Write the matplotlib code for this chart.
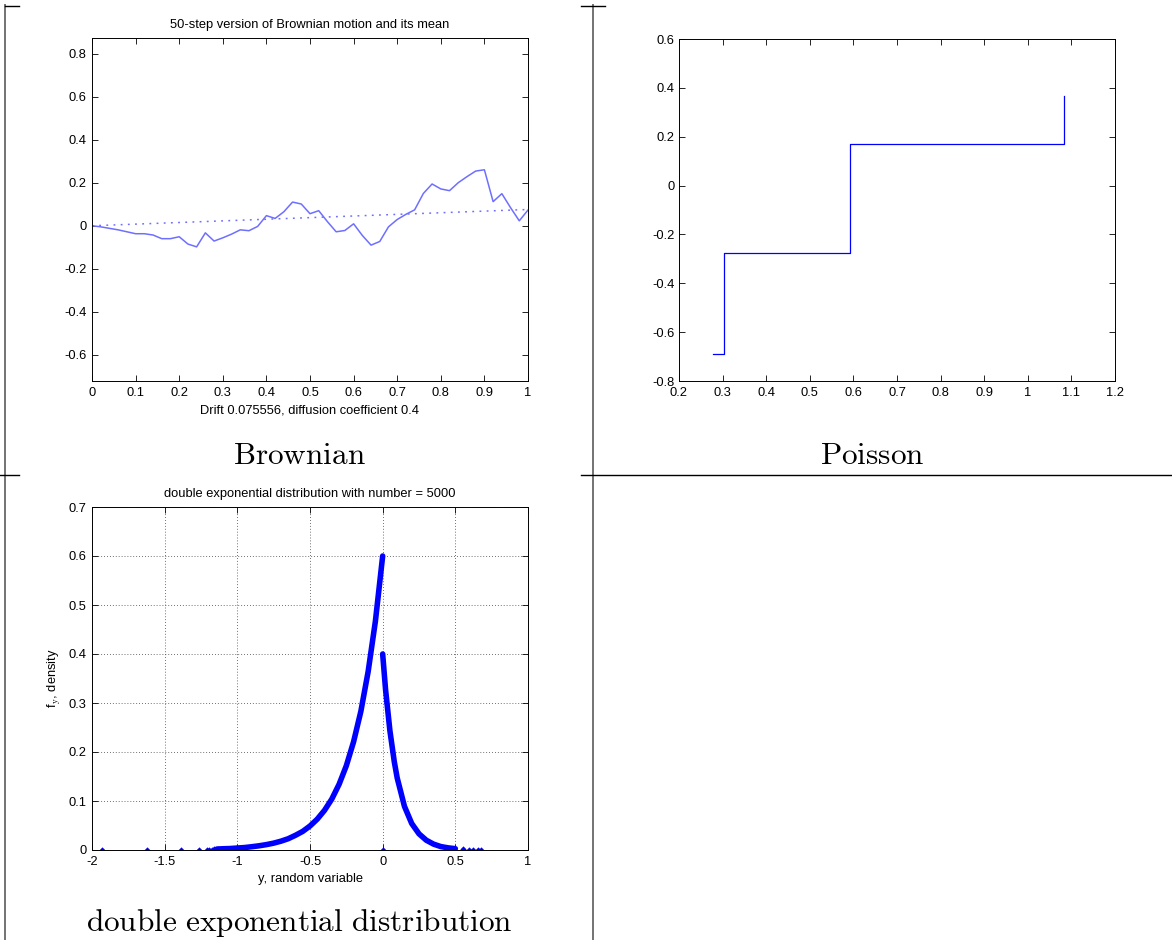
import numpy as np
import matplotlib.pyplot as plt
from matplotlib.lines import Line2D
from matplotlib.ticker import FormatStrFormatter, MultipleLocator

plt.rcParams['font.family'] = ['Liberation Sans', 'DejaVu Sans']
plt.rcParams['font.size'] = 9.3
plt.rcParams['mathtext.fontset'] = 'cm'

### Daten
# Brownian path, 50 Schritte auf [0, 1]
bm_t = np.linspace(0, 1, 51)
bm_w = [0.0, -0.005, -0.012, -0.019, -0.028, -0.037, -0.037, -0.043, -0.060, -0.060,
        -0.051, -0.085, -0.098, -0.033, -0.071, -0.056, -0.039, -0.019, -0.023, -0.003,
        0.047, 0.034, 0.065, 0.110, 0.101, 0.056, 0.070, 0.019, -0.028, -0.022,
        0.009, -0.045, -0.090, -0.073, -0.005, 0.029, 0.053, 0.074, 0.150, 0.194,
        0.171, 0.163, 0.200, 0.228, 0.254, 0.260, 0.112, 0.149, 0.084, 0.023, 0.073]
drift = 0.075556
mean_t = [0.0, 1.0]
mean_w = [0.0, drift]

# Poisson Sprungzeiten / Werte
po_t = [0.278, 0.303, 0.593, 1.083]
po_v = [-0.691, -0.277, 0.172, 0.367]

de_left_y = [-1.14, -1.1, -1.05, -1.0, -0.95, -0.9, -0.85, -0.8, -0.75, -0.7, -0.65, -0.6,
             -0.55, -0.5, -0.45, -0.4, -0.35, -0.3, -0.25, -0.2, -0.15, -0.1, -0.05, 0.0]
de_left_f = [0.002, 0.0025, 0.003, 0.004, 0.005, 0.0067, 0.0086, 0.011, 0.014, 0.018, 0.023, 0.030,
             0.038, 0.049, 0.063, 0.081, 0.104, 0.134, 0.172, 0.221, 0.283, 0.364, 0.467, 0.6]
de_right_y = [0.0, 0.02, 0.05, 0.08, 0.1, 0.15, 0.2, 0.25, 0.3, 0.35, 0.4, 0.45, 0.5]
de_right_f = [0.4, 0.327, 0.243, 0.180, 0.147, 0.089, 0.054, 0.033, 0.020, 0.012, 0.007, 0.0044, 0.0027]
de_tail_y = [-1.933, -1.624, -1.39, -1.262, -1.211, -1.195, -1.176, -1.16, 0.0,
             0.55, 0.596, 0.625, 0.653, 0.678]
de_tail_f = [0.0, 0.0, 0.0, 0.0005, 0.0008, 0.0009, 0.001, 0.0012, 0.0,
             0.0015, 0.001, 0.0008, 0.0006, 0.0005]

W, H = 1172, 940


def box(l, t, r, b):
    return [l / W, 1 - b / H, (r - l) / W, (b - t) / H]


def matlab_axes(ax):
    ax.tick_params(direction='in', top=True, right=True, length=4, width=0.6,
                   labelsize=9.3, pad=4)
    for s in ax.spines.values():
        s.set_linewidth(0.7)
    ax.xaxis.set_major_formatter(FormatStrFormatter('%g'))
    ax.yaxis.set_major_formatter(FormatStrFormatter('%g'))


fig = plt.figure(figsize=(W / 100, H / 100), dpi=100)

# Tabellenlinien
line_kw = dict(transform=fig.transFigure)
fig.add_artist(Line2D([5 / W, 5 / W], [0, 1 - 5 / H], color='0.45', lw=1.4, **line_kw))
fig.add_artist(Line2D([593 / W, 593 / W], [0, 1 - 5 / H], color='0.45', lw=1.4, **line_kw))
fig.add_artist(Line2D([5 / W, 19 / W], [1 - 6 / H, 1 - 6 / H], color='k', lw=1, **line_kw))
fig.add_artist(Line2D([581 / W, 605 / W], [1 - 6 / H, 1 - 6 / H], color='k', lw=1, **line_kw))
fig.add_artist(Line2D([0, 19 / W], [1 - 475 / H, 1 - 475 / H], color='k', lw=1, **line_kw))
fig.add_artist(Line2D([581 / W, 1], [1 - 475 / H, 1 - 475 / H], color='k', lw=1, **line_kw))

## Brownian
ax1 = fig.add_axes(box(92, 38, 528, 381))
ax1.plot(bm_t, bm_w, color='#6f6fff', lw=1.1)
ax1.plot(mean_t, mean_w, color='#6f6fff', lw=1.1, ls=(0, (1.2, 3.5)))
ax1.set_xlim(0, 1)
ax1.set_ylim(-0.721, 0.872)
ax1.xaxis.set_major_locator(MultipleLocator(0.1))
ax1.set_yticks([-0.6, -0.4, -0.2, 0, 0.2, 0.4, 0.6, 0.8])
matlab_axes(ax1)
ax1.set_title("50-step version of Brownian motion and its mean", fontsize=9.3, pad=7)
ax1.set_xlabel("Drift 0.075556, diffusion coefficient 0.4", fontsize=9.3, labelpad=4)

## Poisson
ax2 = fig.add_axes(box(679, 39, 1115, 381))
ax2.step(po_t, po_v, where='post', color='#0000ff', lw=0.9)
ax2.set_xlim(0.2, 1.2)
ax2.set_ylim(-0.8, 0.6)
ax2.xaxis.set_major_locator(MultipleLocator(0.1))
ax2.yaxis.set_major_locator(MultipleLocator(0.2))
matlab_axes(ax2)
ax2.tick_params(axis='y', pad=3)
ax2.tick_params(axis='x', pad=4)

## double exponential
ax3 = fig.add_axes(box(92, 507, 528, 850))
ax3.plot(de_left_y, de_left_f, color='#0000ff', lw=4, solid_capstyle='round')
ax3.plot(de_right_y, de_right_f, color='#0000ff', lw=4, solid_capstyle='round')
ax3.plot(de_tail_y, de_tail_f, 'D', color='#0000ff', ms=3.2, mew=0)
ax3.set_xlim(-2, 1)
ax3.set_ylim(0, 0.7)
ax3.xaxis.set_major_locator(MultipleLocator(0.5))
ax3.yaxis.set_major_locator(MultipleLocator(0.1))
ax3.grid(True, color='0.25', ls=(0, (1, 2.5)), lw=0.6)
matlab_axes(ax3)
ax3.set_title("double exponential distribution with number = 5000", fontsize=9.3, pad=7)
ax3.set_xlabel("y, random variable", fontsize=9.3, labelpad=4)
ax3.set_ylabel(r"f$_{\mathrm{y}}$, density", fontsize=9.3)
ax3.yaxis.set_label_coords(-0.066, 0.5)
for sp in ax3.spines.values():
    sp.set_zorder(3)

# Beschriftungen der Tabellenzellen
cap = dict(fontsize=22.5, ha='center', va='center', family='serif')
fig.text(299 / W, 1 - 455 / H, r"$\mathrm{Brownian}$", **cap)
fig.text(872 / W, 1 - 455 / H, r"$\mathrm{Poisson}$", **cap)
fig.text(299 / W, 1 - 923 / H, r"$\mathrm{double\ exponential\ distribution}$", **cap)

fig.savefig("out.png", dpi=100)
